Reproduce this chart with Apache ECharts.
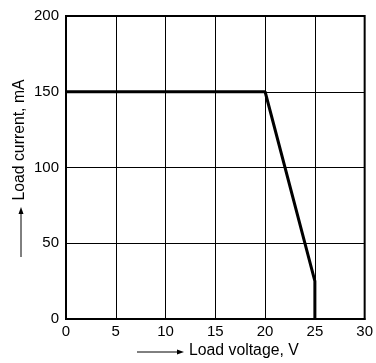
<!DOCTYPE html>
<html><head><meta charset="utf-8">
<script src="https://cdn.jsdelivr.net/npm/echarts@6/dist/echarts.min.js"></script>
<style>html,body{margin:0;padding:0;background:#fff}#c{width:376px;height:363px}</style>
</head><body><div id="c"></div>
<script>
var voltage = [0, 20, 25, 25];
var current = [150, 150, 25, 0];
var xTicks = [0, 5, 10, 15, 20, 25, 30];
var yTicks = [0, 50, 100, 150, 200];
var xName = 'Load voltage, V';
var yName = 'Load current, mA';

var chart = echarts.init(document.getElementById('c'), null, {renderer: 'canvas'});
var font = 'Liberation Sans, Arial, sans-serif';
var L = 66, T = 16, R = 7, B = 44;
chart.setOption({
  animation: false,
  grid: {left: L, right: R, top: T, bottom: B, show: true, borderColor: '#000', borderWidth: 2, backgroundColor: 'transparent'},
  xAxis: {
    type: 'value', min: xTicks[0], max: xTicks[xTicks.length-1], interval: 5,
    axisLine: {show: true, lineStyle: {color: '#000', width: 2}},
    axisTick: {show: false},
    splitLine: {show: true, lineStyle: {color: '#000', width: 1}},
    axisLabel: {color: '#000', fontSize: 15, fontFamily: font, margin: 5}
  },
  yAxis: {
    type: 'value', min: yTicks[0], max: yTicks[yTicks.length-1], interval: 50,
    axisLine: {show: true, lineStyle: {color: '#000', width: 2}},
    axisTick: {show: false},
    splitLine: {show: true, lineStyle: {color: '#000', width: 1}},
    axisLabel: {color: '#000', fontSize: 15, fontFamily: font, margin: 7}
  },
  series: [{
    type: 'line',
    data: voltage.map(function(v, i){ return [v, current[i]]; }),
    showSymbol: false, symbol: 'none',
    lineStyle: {color: '#000', width: 3},
    clip: false
  }],
  graphic: [
    {type: 'text', left: 189, top: 343, style: {text: xName, fill: '#000', font: '15.8px ' + font}},
    {type: 'line', shape: {x1: 137, y1: 352, x2: 180, y2: 352}, style: {stroke: '#000', lineWidth: 1}},
    {type: 'polygon', shape: {points: [[184, 352], [177, 349.5], [177, 354.5]]}, style: {fill: '#000'}},
    {type: 'text', x: 20, y: 140, rotation: Math.PI/2, style: {text: yName, fill: '#000', font: '15.8px ' + font, align: 'center', verticalAlign: 'middle'}},
    {type: 'line', shape: {x1: 21, y1: 257, x2: 21, y2: 212}, style: {stroke: '#000', lineWidth: 1}},
    {type: 'polygon', shape: {points: [[21, 207], [18.5, 214], [23.5, 214]]}, style: {fill: '#000'}}
  ]
});
</script></body></html>
